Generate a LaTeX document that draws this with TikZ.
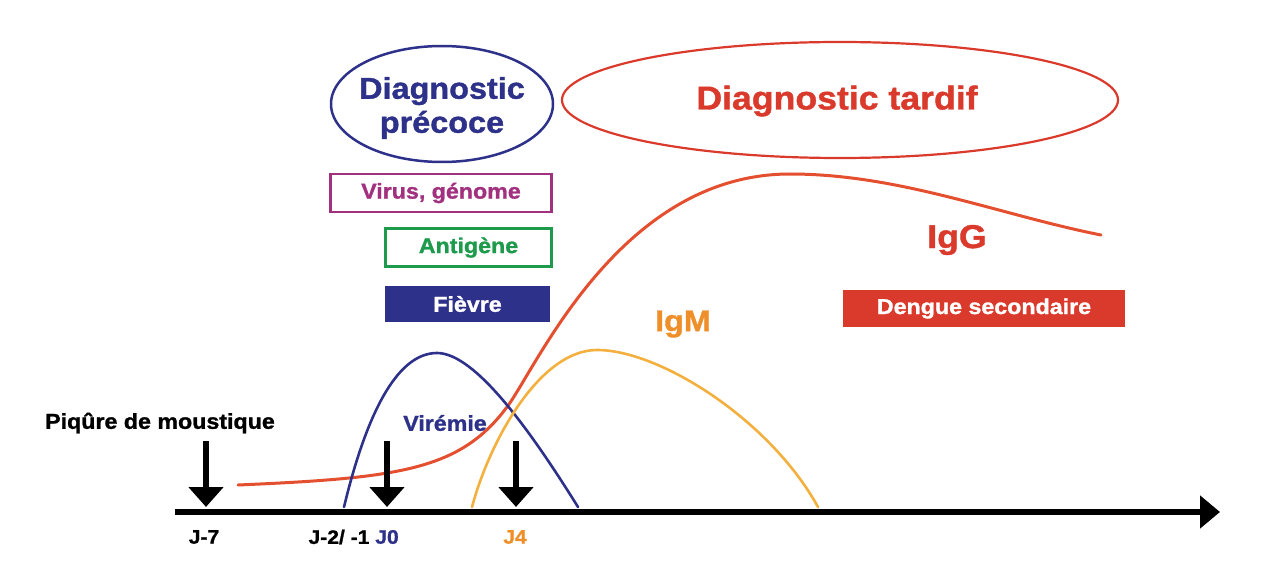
\documentclass[tikz,border=0pt]{standalone}
\usepackage{fontspec}
\setmainfont{Liberation Sans}[FakeStretch=1.08, BoldFeatures={FakeBold=1.2}]
\usetikzlibrary{arrows.meta,shapes.geometric}
\definecolor{navy}{HTML}{2E3189}
\definecolor{dred}{HTML}{DA3A2B}
\definecolor{curvered}{HTML}{E4502F}
\definecolor{orangec}{HTML}{F3B03F}
\definecolor{orangetx}{HTML}{EF8F2A}
\definecolor{purp}{HTML}{A1317F}
\definecolor{grn}{HTML}{1E9A4C}
\newcommand{\fs}[1]{\fontsize{#1}{#1}\selectfont\bfseries}
\tikzset{
  lbl/.style={font=\fs{21.5}, inner sep=0pt},
  daylbl/.style={font=\fs{19.5}, inner sep=0pt},
  boxlbl/.style={font=\fs{21.5}, inner sep=0pt, minimum height=38pt, line width=2.2pt, anchor=center},
  downarrow/.style={line width=6pt, -{Triangle[width=34pt,length=20pt]}},
  curve/.style={line width=2.6pt, line cap=round},
}
\begin{document}
\begin{tikzpicture}[x=1pt,y=-1pt]
\useasboundingbox (0,0) rectangle (1280,580);
% axis
\coordinate (axL) at (175,512);
\coordinate (axR) at (1220,512);
\draw[line width=6pt, -{Triangle[width=32pt,length=20pt]}] (axL) -- (axR);
% curves
\draw[curvered, curve, line width=3pt] (238,485) .. controls (400,478) and (460,470) .. (507,407)
  .. controls (537,367) and (620,174) .. (790,174)
  .. controls (900,174) and (1000,215) .. (1101,235);
\draw[navy, curve] (344,507) .. controls (365,420) and (395,353) .. (437,353)
  .. controls (475,353) and (530,430) .. (578,507);
\draw[orangec, curve] (472,507) .. controls (490,440) and (540,350) .. (597,350)
  .. controls (660,350) and (770,420) .. (818,507);
% ellipses
\node[draw=navy, line width=2.5pt, ellipse, minimum width=222pt, minimum height=116pt, inner sep=0pt] (ep) at (442,104) {};
\node[navy, font=\fs{30}, align=center, inner sep=0pt] (ept) at (442,108) {Diagnostic\\[4pt]précoce};
\node[draw=dred, line width=2.2pt, ellipse, minimum width=556pt, minimum height=116pt, inner sep=0pt] (et) at (840,100) {};
\node[dred, font=\fs{33}, inner sep=0pt] (ett) at (837,101) {Diagnostic tardif};
% boxes
\node[boxlbl, draw=purp, text=purp, minimum width=221pt] (vir) at (441,193) {Virus, génome};
\node[boxlbl, draw=grn, text=grn, minimum width=166pt] (ant) at (468.5,247.5) {Antigène};
\node[boxlbl, fill=navy, text=white, minimum width=165pt, minimum height=36pt, draw=none] (fie) at (467.5,304) {Fièvre};
\node[boxlbl, fill=dred, text=white, minimum width=282pt, minimum height=37pt, draw=none] (den) at (984,308.5) {Dengue secondaire};
% labels
\node[dred, font=\fs{33}, inner sep=0pt] (igg) at (957,240) {IgG};
\node[orangetx, font=\fs{30}, inner sep=0pt] (igm) at (683,324) {IgM};
\node[navy, font=\fs{21.5}, inner sep=0pt] (vire) at (445,423) {Virémie};
\node[lbl] (piq) at (160,423) {Piqûre de moustique};
% down arrows
\coordinate (a1s) at (206,441); \coordinate (a1e) at (206,507);
\coordinate (a2s) at (387,441); \coordinate (a2e) at (387,507);
\coordinate (a3s) at (516,441); \coordinate (a3e) at (516,507);
\draw[downarrow] (a1s) -- (a1e);
\draw[downarrow] (a2s) -- (a2e);
\draw[downarrow] (a3s) -- (a3e);
% day labels
\node[daylbl] (j7) at (204,537) {J-7};
\node[daylbl] (j2) at (339,537) {J-2/ -1};
\node[daylbl, navy] (j0) at (387,537) {J0};
\node[daylbl, orangetx] (j4) at (515,537) {J4};
\end{tikzpicture}
\end{document}
